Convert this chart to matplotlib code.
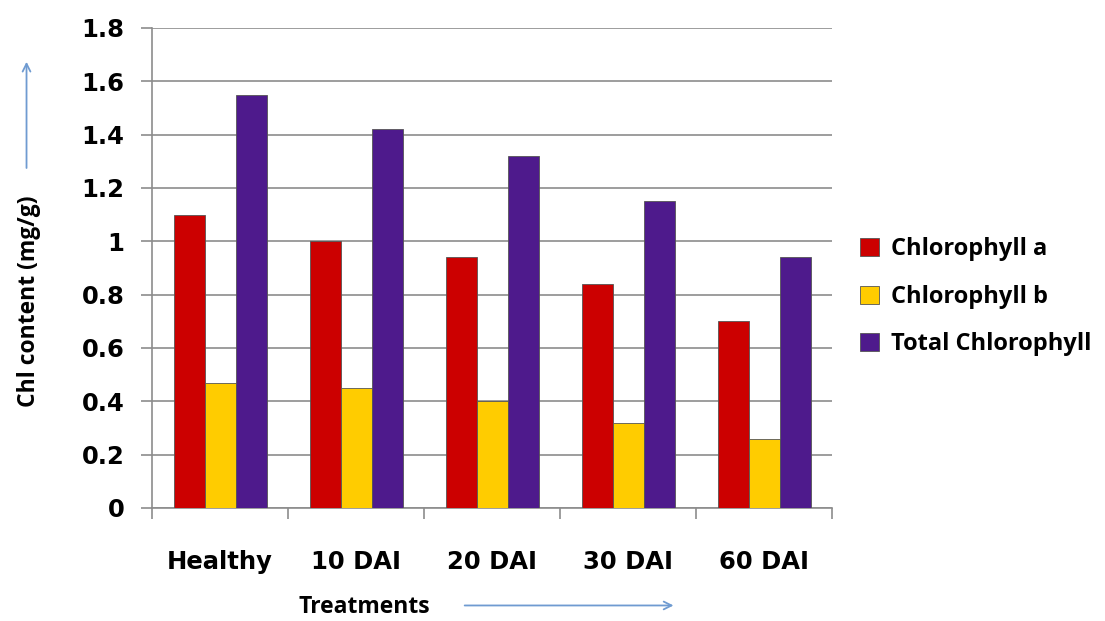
import numpy as np
import matplotlib.pyplot as plt
from matplotlib.patches import FancyArrowPatch

treatments = ['Healthy', '10 DAI', '20 DAI', '30 DAI', '60 DAI']
chl_a = [1.10, 1.00, 0.94, 0.84, 0.70]
chl_b = [0.47, 0.45, 0.40, 0.32, 0.26]
chl_total = [1.55, 1.42, 1.32, 1.15, 0.94]
series_names = ['Chlorophyll a', 'Chlorophyll b', 'Total Chlorophyll']
colores = ['#CC0000', '#FFCC00', '#4E1A8C']

fig = plt.figure(figsize=(11.05, 6.21), dpi=100)
ax = fig.add_axes([0.1376, 0.182, 0.6154, 0.773])

x = np.arange(len(treatments))
w = 0.228
for i, (vals, name, c) in enumerate(zip([chl_a, chl_b, chl_total], series_names, colores)):
    ax.bar(x + (i - 1) * w, vals, width=w, color=c, edgecolor='#555555',
           linewidth=0.6, label=name, zorder=3)

ax.set_xlim(-0.5, len(treatments) - 0.5)
ax.set_ylim(0, 1.8)
ax.set_yticks(np.arange(0, 1.81, 0.2))
ax.set_yticklabels(['0', '0.2', '0.4', '0.6', '0.8', '1', '1.2', '1.4', '1.6', '1.8'],
                   fontsize=17.5, fontweight='bold')
ax.yaxis.grid(True, color='#8c8c8c', linewidth=1.2, zorder=0)
ax.set_axisbelow(True)

# etiquetas de categorias, marcas entre grupos
ax.set_xticks(x)
ax.set_xticklabels(treatments, fontsize=17.5, fontweight='bold')
ax.tick_params(axis='x', length=0, pad=30)
ax.set_xticks(np.arange(-0.5, len(treatments), 1), minor=True)
ax.tick_params(axis='x', which='minor', length=8, color='#8c8c8c', width=1.2)
ax.tick_params(axis='y', length=8, color='#8c8c8c', width=1.2, pad=12)

for s in ['top', 'right']:
    ax.spines[s].set_visible(False)
for s in ['left', 'bottom']:
    ax.spines[s].set_color('#8c8c8c')
    ax.spines[s].set_linewidth(1.2)

leg = ax.legend(loc='center left', bbox_to_anchor=(1.01, 0.44), frameon=False,
                prop={'family': 'Open Sans', 'weight': 'bold', 'size': 17},
                handlelength=0.8, handleheight=0.8, labelspacing=1.0, handletextpad=0.5)

fig.text(0.026, 0.515, 'Chl content (mg/g)', rotation=90, ha='center', va='center',
         fontsize=16.5, fontweight='bold', family='Open Sans')
fig.text(0.330, 0.022, 'Treatments', ha='center', va='center',
         fontsize=16.5, fontweight='bold', family='Open Sans')

flecha = dict(arrowstyle='->', color='#6F9BD1', lw=1.3, mutation_scale=14)
fig.patches.append(FancyArrowPatch((0.024, 0.725), (0.024, 0.905),
                                   transform=fig.transFigure, **flecha))
fig.patches.append(FancyArrowPatch((0.418, 0.025), (0.612, 0.025),
                                   transform=fig.transFigure, **flecha))

plt.savefig('out.png', dpi=100)
